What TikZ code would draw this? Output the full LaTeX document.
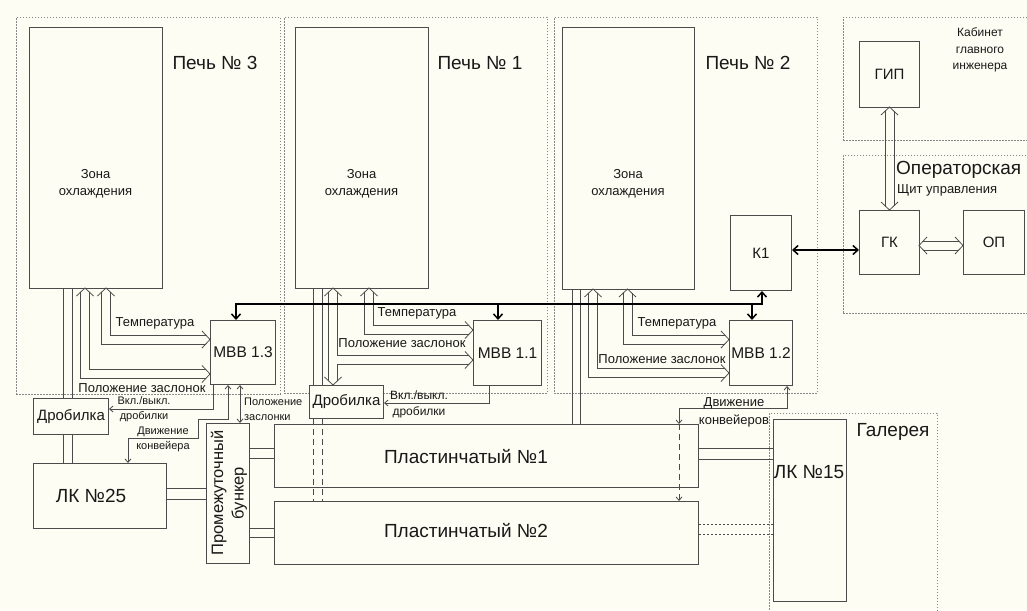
\documentclass[tikz,border=0pt]{standalone}
\usepackage{fontspec}
\setmainfont{Liberation Sans}
\usetikzlibrary{arrows.meta}
\definecolor{bg}{RGB}{253,253,243}
\definecolor{ln}{RGB}{75,75,75}
\definecolor{tx}{RGB}{25,25,25}
\definecolor{dt}{RGB}{135,135,135}
\tikzset{
  area/.style={draw=dt, line width=0.9pt, dash pattern=on 1.3pt off 1.7pt, anchor=north west, inner sep=0pt},
  box/.style={draw=ln, line width=1pt, fill=bg, anchor=north west, inner sep=0pt, text=tx},
  pl/.style={draw=ln, line width=0.8pt},
  sig/.style={draw=ln, line width=0.8pt, >={Straight Barb[length=3.5pt,width=6pt]}},
  bus/.style={draw=black, line width=1.5pt, >={Straight Barb[length=5pt,width=9pt]}},
  hl/.style={draw=ln, line width=0.8pt, line join=miter},
  lbl/.style={text=tx, inner sep=0pt, align=center},
  f19/.style={font=\fontsize{19}{22}\selectfont},
  f16/.style={font=\fontsize{15.5}{18}\selectfont},
  f15/.style={font=\fontsize{15}{18}\selectfont},
  f13/.style={font=\fontsize{13}{16}\selectfont},
  f12/.style={font=\fontsize{12}{16}\selectfont},
  f11/.style={font=\fontsize{11}{15}\selectfont},
}
% hollow (double-line) connectors
\newcommand\hollowL[4]{% cx, cy, ytop, xright
  \draw[hl] ({#1-4.5},{#3+4.2}) -- ({#1-4.5},{#2+4.5}) -- ({#4-4.2},{#2+4.5});
  \draw[hl] ({#1+4.5},{#3+4.2}) -- ({#1+4.5},{#2-4.5}) -- ({#4-4.2},{#2-4.5});
  \draw[hl] ({#1-8.5},{#3+8}) -- (#1,#3) -- ({#1+8.5},{#3+8});
  \draw[hl] ({#4-8},{#2-8.5}) -- (#4,#2) -- ({#4-8},{#2+8.5});
}
\newcommand\hollowV[3]{% cx, ytop, ybot
  \draw[hl] ({#1-4.5},{#2+4.2}) -- ({#1-4.5},{#3-4.2});
  \draw[hl] ({#1+4.5},{#2+4.2}) -- ({#1+4.5},{#3-4.2});
  \draw[hl] ({#1-8.5},{#2+8}) -- (#1,#2) -- ({#1+8.5},{#2+8});
  \draw[hl] ({#1-8.5},{#3-8}) -- (#1,#3) -- ({#1+8.5},{#3-8});
}
\newcommand\hollowH[3]{% cy, xleft, xright
  \draw[hl] ({#2+4.2},{#1-4.5}) -- ({#3-4.2},{#1-4.5});
  \draw[hl] ({#2+4.2},{#1+4.5}) -- ({#3-4.2},{#1+4.5});
  \draw[hl] ({#2+8},{#1-8.5}) -- (#2,#1) -- ({#2+8},{#1+8.5});
  \draw[hl] ({#3-8},{#1-8.5}) -- (#3,#1) -- ({#3-8},{#1+8.5});
}
\begin{document}
\begin{tikzpicture}[x=1pt,y=-1pt]
\useasboundingbox (0,0) rectangle (1027,610);
\fill[bg] (0,0) rectangle (1027,610);
\clip (0,0) rectangle (1027,610);

% areas
\node[area, minimum width=264pt, minimum height=377pt] (p3) at (16,17) {};
\node[area, minimum width=263pt, minimum height=376pt] (p1) at (284,17) {};
\node[area, minimum width=263pt, minimum height=376pt] (p2) at (554,17) {};
\node[area, minimum width=200pt, minimum height=123pt] (kab) at (843,17) {};
\node[area, minimum width=200pt, minimum height=158pt] (opr) at (843,155) {};
\node[area, minimum width=168pt, minimum height=210pt] (gal) at (769,413) {};

% boxes
\node[box, minimum width=133pt, minimum height=261pt] (z3) at (29,27) {};
\node[box, minimum width=133pt, minimum height=261pt] (z1) at (295,27) {};
\node[box, minimum width=132pt, minimum height=262pt] (z2) at (562,27) {};
\node[box, f15, minimum width=61pt, minimum height=75pt] (k1) at (730,215) {К1};
\node[box, f15, minimum width=60pt, minimum height=66pt] (gip) at (859,41) {ГИП};
\node[box, f15, minimum width=60pt, minimum height=64pt] (gk) at (859,210) {ГК};
\node[box, f15, minimum width=61pt, minimum height=64pt] (opn) at (963,210) {ОП};
\node[box, f16, minimum width=65pt, minimum height=64pt] (m13) at (210,320) {МВВ 1.3};
\node[box, f16, minimum width=68pt, minimum height=65pt] (m11) at (473,320) {МВВ 1.1};
\node[box, f16, minimum width=63pt, minimum height=65pt] (m12) at (729,320) {МВВ 1.2};
\node[box, f15, minimum width=75pt, minimum height=36pt] (dr3) at (33,398) {Дробилка};
\node[box, f15, minimum width=74pt, minimum height=33pt] (dr1) at (309,385) {Дробилка};
\node[box, minimum width=133pt, minimum height=65pt] (lk25) at (33,463) {};
\node[box, minimum width=43pt, minimum height=140pt] (bun) at (206,423) {};
\node[box, minimum width=424pt, minimum height=63pt] (pl1) at (274,424) {};
\node[box, minimum width=424pt, minimum height=63pt] (pl2) at (274,501) {};
\node[box, minimum width=73pt, minimum height=182pt] (lk15) at (773,419) {};

% box texts
\node[lbl, font=\fontsize{13}{17}\selectfont] (z3t) at (95.5,184) {Зона\\охлаждения};
\node[lbl, font=\fontsize{13}{17}\selectfont] (z1t) at (361.5,184) {Зона\\охлаждения};
\node[lbl, font=\fontsize{13}{17}\selectfont] (z2t) at (628,184) {Зона\\охлаждения};
\node[lbl, f19] (lk25t) at (91,496) {ЛК №25};
\node[lbl, f19] (pl1t) at (466,457) {Пластинчатый №1};
\node[lbl, f19] (pl2t) at (466,531) {Пластинчатый №2};
\node[lbl, f19] (lk15t) at (809,472) {ЛК №15};
\node[lbl, rotate=90, font=\fontsize{16.5}{20.5}\selectfont] (bunt) at (229,493) {Промежуточный\\бункер};

% area titles
\node[lbl, f19] (p3t) at (215,63) {Печь № 3};
\node[lbl, f19] (p1t) at (480,63) {Печь № 1};
\node[lbl, f19] (p2t) at (748,63) {Печь № 2};
\node[lbl, font=\fontsize{12}{16.5}\selectfont] (kabt) at (980,50) {Кабинет\\главного\\инженера};
\node[lbl, f19, anchor=west] (oprt) at (896,170) {Операторская};
\node[lbl, f13, anchor=west] (shch) at (897,190) {Щит управления};
\node[lbl, f19] (galt) at (893,432) {Галерея};

% material flow lines
\draw[pl] (z3.south -| 63,0) -- (dr3.north -| 63,0);
\draw[pl] (z3.south -| 72,0) -- (dr3.north -| 72,0);
\draw[pl] (dr3.south -| 63,0) -- (lk25.north -| 63,0);
\draw[pl] (dr3.south -| 72,0) -- (lk25.north -| 72,0);
\draw[pl] (z1.south -| 313,0) -- (dr1.north -| 313,0);
\draw[pl] (z1.south -| 322,0) -- (dr1.north -| 322,0);
\draw[pl, dash pattern=on 6pt off 4pt] (dr1.south -| 313,0) -- (pl2.north -| 313,0);
\draw[pl, dash pattern=on 6pt off 4pt] (dr1.south -| 322,0) -- (pl2.north -| 322,0);
\draw[pl] (z2.south -| 572,0) -- (pl1.north -| 572,0);
\draw[pl] (z2.south -| 580,0) -- (pl1.north -| 580,0);
\draw[pl] (lk25.east |- 0,488) -- (bun.west |- 0,488);
\draw[pl] (lk25.east |- 0,499) -- (bun.west |- 0,499);
\draw[pl] (bun.east |- 0,448) -- (pl1.west |- 0,448);
\draw[pl] (bun.east |- 0,458) -- (pl1.west |- 0,458);
\draw[pl] (bun.east |- 0,528) -- (pl2.west |- 0,528);
\draw[pl] (bun.east |- 0,537) -- (pl2.west |- 0,537);
\draw[pl] (pl1.east |- 0,448) -- (lk15.west |- 0,448);
\draw[pl] (pl1.east |- 0,459) -- (lk15.west |- 0,459);
\draw[pl, dash pattern=on 2pt off 2pt] (pl2.east |- 0,524) -- (lk15.west |- 0,524);
\draw[pl, dash pattern=on 2pt off 2pt] (pl2.east |- 0,534) -- (lk15.west |- 0,534);

% hollow connectors
\hollowL{106}{339.5}{288}{210}
\hollowL{85}{374}{288}{210}
\hollowL{369}{330}{288}{473}
\hollowL{627.5}{339.5}{289}{729}
\hollowL{593}{373}{289}{729}
% Pech 1: zone <-> drobilka with branch to MVB 1.1
\draw[hl] (328.5,292.2) -- (328.5,380.8);
\draw[hl] (337.5,292.2) -- (337.5,355.5) -- (468.8,355.5);
\draw[hl] (337.5,380.8) -- (337.5,364.5) -- (468.8,364.5);
\draw[hl] (324.5,296) -- (333,288) -- (341.5,296);
\draw[hl] (324.5,377) -- (333,385) -- (341.5,377);
\draw[hl] (465,351.5) -- (473,360) -- (465,368.5);
\hollowV{889.5}{107}{210}
\hollowH{245.5}{919}{963}

% bus
\draw[bus,<->] (m13.north -| 236,0) -- (236,304) -- (762,304) -- (k1.south -| 762,0);
\draw[bus,->] (498,304) -- (m11.north -| 498,0);
\draw[bus,->] (752,304) -- (m12.north -| 752,0);
\draw[bus,<->] (k1.east |- 0,250) -- (gk.west |- 0,250);

% signal lines
\draw[sig,->] (m13.south -| 213,0) |- (dr3.east |- 0,409);
\draw[sig,<->] (m13.south -| 228,0) -- (228,419) -- (198,419) -- (198,438) -- (128,438) -- (lk25.north -| 128,0);
\draw[sig,<->] (m13.south -| 240,0) -- (bun.north -| 240,0);
\draw[sig,->] (m11.south -| 489,0) |- (dr1.east |- 0,403);
\draw[sig,<->] (m12.south -| 787,0) -- (787,408) -- (679,408) -- (pl1.north -| 679,0);
\draw[sig,->, dash pattern=on 6pt off 4pt] (pl1.north -| 679,0) -- (pl2.north -| 679,0);

% signal labels
\node[lbl, f13] (t3) at (155,323) {Температура};
\node[lbl, f13] (pz3) at (142,388) {Положение заслонок};
\node[lbl, f11] (vk3) at (144,409.5) {Вкл./выкл.\\дробилки};
\node[lbl, f11] (dk3) at (163,439.5) {Движение\\конвейера};
\node[lbl, f11, align=left, anchor=west] (pzk) at (244,409) {Положение\\заслонки};
\node[lbl, f13] (t1) at (417,313) {Температура};
\node[lbl, f13] (pz1) at (402,343) {Положение заслонок};
\node[lbl, f12] (vk1) at (419,404.5) {Вкл./выкл.\\дробилки};
\node[lbl, f13] (t2) at (677,323) {Температура};
\node[lbl, f13] (pz2) at (662,359) {Положение заслонок};
\node[lbl, font=\fontsize{13}{18}\selectfont] (dk2) at (734,412) {Движение\\конвейеров};
\end{tikzpicture}
\end{document}
